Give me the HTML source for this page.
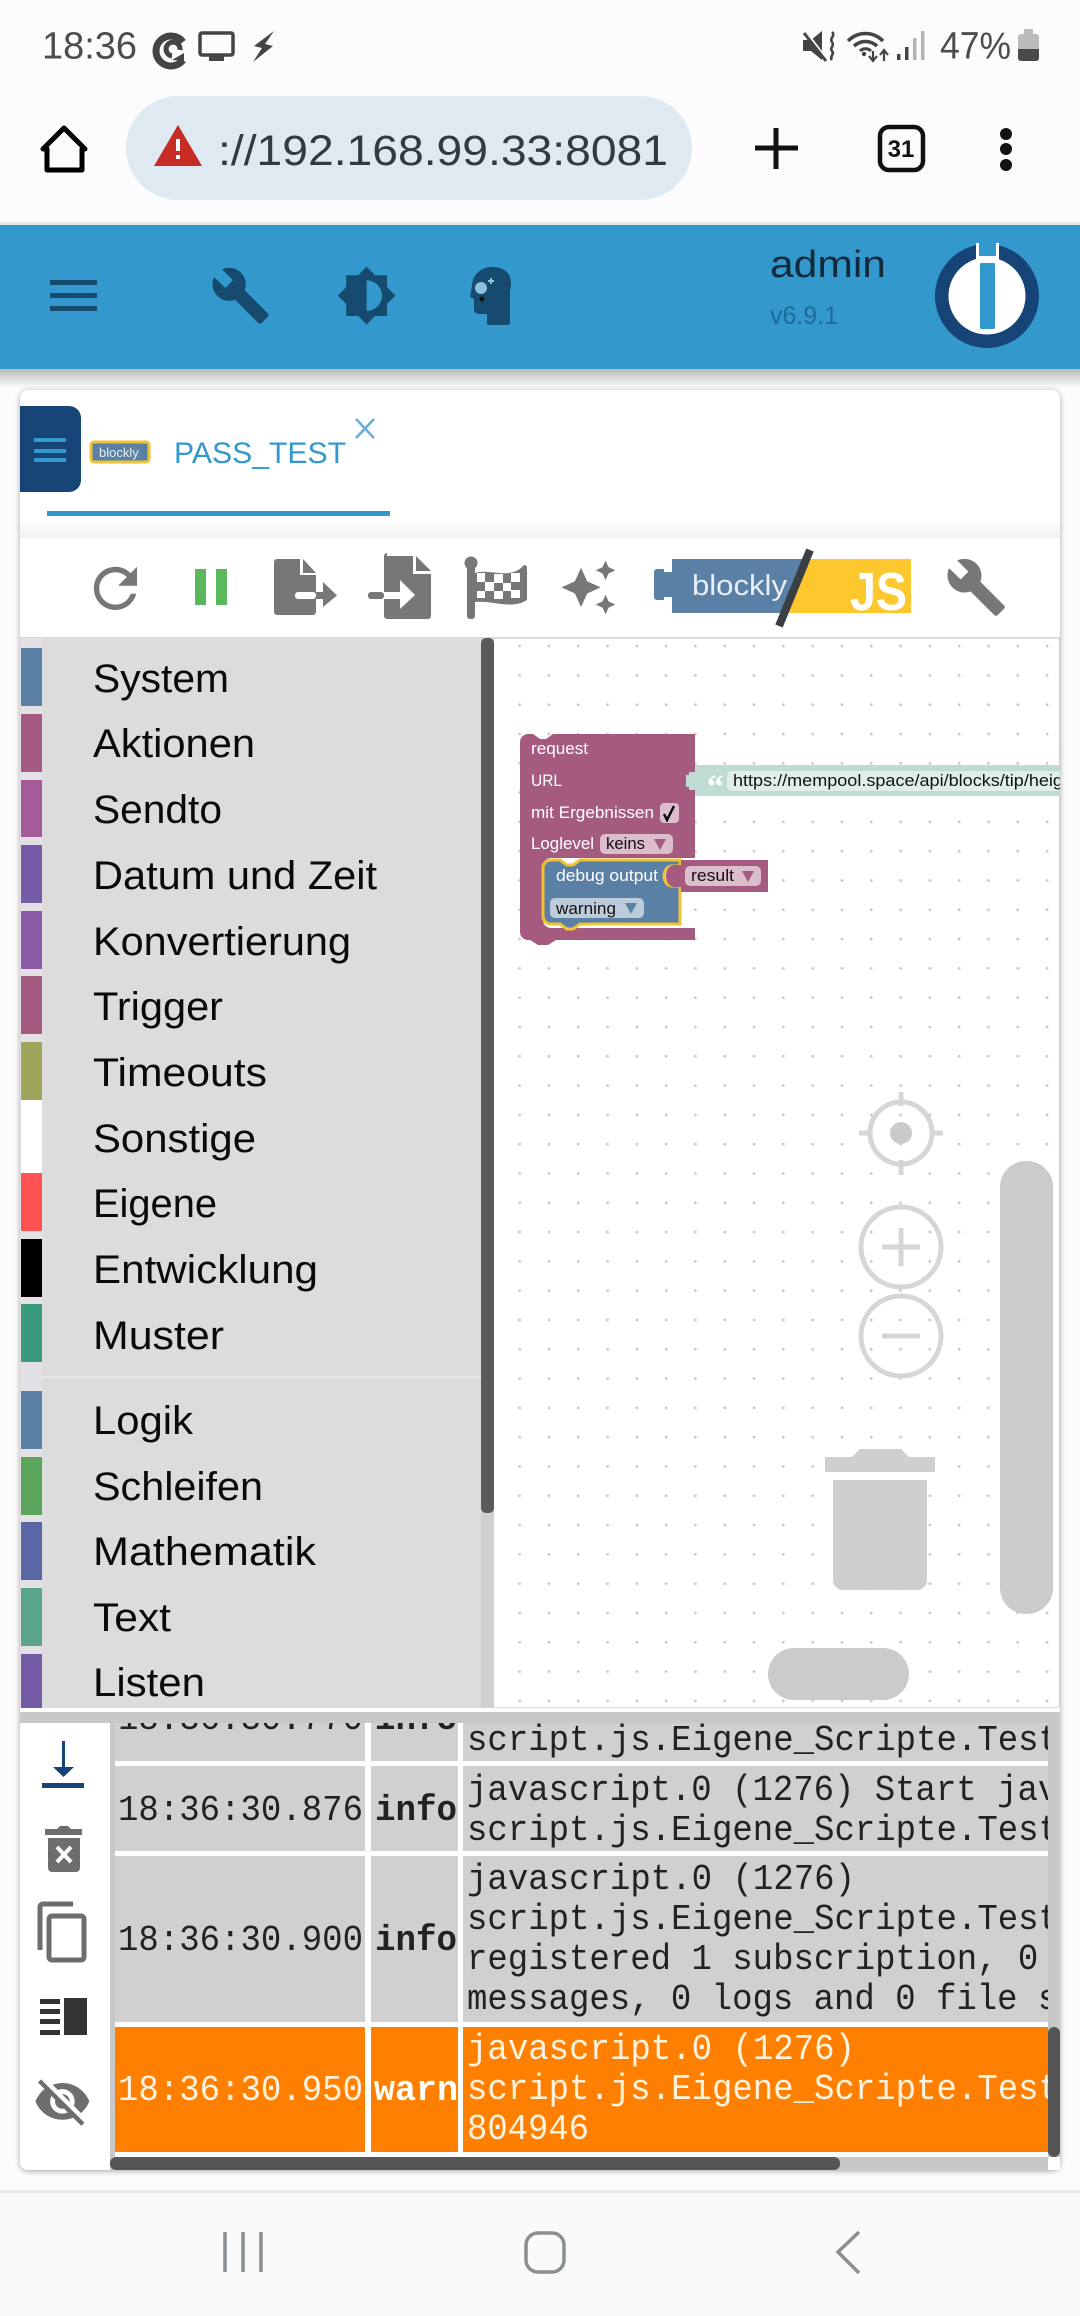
<!DOCTYPE html>
<html><head><meta charset="utf-8"><style>
html,body{margin:0;padding:0;width:1080px;height:2316px;overflow:hidden;background:#fff}
svg{display:block;font-family:"Liberation Sans",sans-serif}
.m text{font-size:40px;fill:#0a0a0a}
.l text{font-family:"Liberation Mono",monospace;font-size:36px;fill:#222}
.b text{font-size:17px;fill:#fff}
</style></head><body>
<svg xmlns="http://www.w3.org/2000/svg" width="1080" height="2316" viewBox="0 0 1080 2316">
<defs>
<pattern id="d" x="505" y="690" width="29.3" height="29.3" patternUnits="userSpaceOnUse"><circle cx="14.65" cy="14.65" r="1.4" fill="#c8c8c8"/></pattern>
<linearGradient id="s" x1="0" y1="0" x2="0" y2="1"><stop offset="0" stop-color="#bbb"/><stop offset="1" stop-color="#fafafa"/></linearGradient>
<linearGradient id="f" x1="0" y1="0" x2="0" y2="1"><stop offset="0" stop-color="#fff"/><stop offset="1" stop-color="#f1f1f1"/></linearGradient>
<clipPath id="cm"><rect x="20" y="638" width="461" height="1070"/></clipPath>
<clipPath id="cl"><rect x="115" y="1723" width="933" height="434"/></clipPath>
<clipPath id="cb"><rect x="494" y="638" width="566" height="1070"/></clipPath>
<path id="wr" d="M22.7 19l-9.1-9.1c.9-2.3.4-5-1.5-6.9-2-2-5-2.4-7.4-1.3L9 6 6 9 1.6 4.7C.4 7.1.9 10.1 2.9 12.1c1.9 1.9 4.6 2.4 6.9 1.5l9.1 9.1c.4.4 1 .4 1.4 0l2.3-2.3c.5-.4.5-1.1.1-1.4z"/>
</defs>

<rect width="1080" height="2316" fill="#fcfcfc"/>
<!-- status + browser bar -->
<rect width="1080" height="222" fill="#fcfcff"/>
<rect y="222" width="1080" height="3" fill="#e4e6ea"/>
<text x="42" y="58.5" font-size="38" fill="#4c4c4c" textLength="95" lengthAdjust="spacingAndGlyphs">18:36</text>
<g fill="#444">
<path d="M183 60 A15 15 0 1 1 183 42" fill="none" stroke="#444" stroke-width="7"/>
<path d="M185 48 A9 9 0 1 0 178 58" fill="none" stroke="#444" stroke-width="0"/>
<path d="M180 50 A7 7 0 1 0 172 56" fill="none" stroke="#444" stroke-width="5"/>
<path d="M172 60l12 1 0-8z"/>
<rect x="200" y="33" width="33" height="22" rx="2" fill="none" stroke="#444" stroke-width="3.5"/><rect x="209" y="56" width="15" height="5"/>
<path d="M274 31L254 46 262 48 253 62 273 46 265 44z"/>
<path d="M804 43v14l10 0 0-0 12 3v-29z" opacity="0"/>
<path d="M803 40h8l11 -9v29l-11-9h-8z"/><path d="M805 31l22 29" stroke="#fcfcff" stroke-width="3"/><path d="M804 33l22 28" stroke="#444" stroke-width="3"/>
<path d="M830 32c4 4-3 6 0 10s-3 6 0 9 -3 6 0 9" fill="none" stroke="#444" stroke-width="2.6" transform="translate(2 0)"/>
<path d="M848 41c10-10 25-10 35 0M854 46c7-6 16-6 23 0" fill="none" stroke="#444" stroke-width="3.6"/><path d="M860 51c3-3 8-3 11 0" fill="none" stroke="#444" stroke-width="3"/><circle cx="864" cy="54" r="2.2"/>
<path d="M873 51v10M869 56l4 5 4-5M884 61v-10M880 55l4-5 4 5" stroke="#444" stroke-width="2.2" fill="none"/>
</g>
<rect x="897" y="54" width="3.5" height="6" fill="#444"/><rect x="905" y="47" width="3.5" height="13" fill="#444"/><rect x="913" y="38" width="3.5" height="22" fill="#b5b5b5"/><rect x="921" y="31" width="3.5" height="29" fill="#b5b5b5"/>
<text x="940" y="58.5" font-size="38" fill="#4c4c4c" textLength="71" lengthAdjust="spacingAndGlyphs">47%</text>
<rect x="1018" y="34" width="21" height="27" rx="3" fill="#bbb"/><rect x="1024" y="29" width="9" height="5" fill="#bbb"/><path d="M1018 49h21v9a3 3 0 0 1-3 3h-15a3 3 0 0 1-3-3z" fill="#4a4a4a"/>

<path d="M64 128L85 149H82V170H47V149H43z" fill="none" stroke="#000" stroke-width="5" stroke-linejoin="round"/>
<rect x="126" y="96" width="566" height="104" rx="52" fill="#dee9f1"/>
<path d="M178 125L202 166H154z" fill="#c62d24"/><rect x="176" y="139" width="4" height="12" fill="#fff"/><rect x="176" y="155" width="4" height="4" fill="#fff"/>
<text x="218" y="165" font-size="43" fill="#323a42" textLength="450" lengthAdjust="spacingAndGlyphs">://192.168.99.33:8081</text>
<path d="M776 128v41M755 148h43" stroke="#111" stroke-width="5" fill="none"/>
<rect x="880" y="127" width="43" height="43" rx="9" fill="none" stroke="#111" stroke-width="4.5"/>
<text x="901" y="157" font-size="24" font-weight="bold" text-anchor="middle" fill="#111">31</text>
<circle cx="1006" cy="134" r="6" fill="#111"/><circle cx="1006" cy="149" r="6" fill="#111"/><circle cx="1006" cy="165" r="6" fill="#111"/>

<!-- app bar -->
<rect y="369" width="1080" height="18" fill="url(#s)"/>
<rect y="225" width="1080" height="144" fill="#3399cc"/>
<g fill="#164a6e">
<rect x="50" y="280" width="47" height="5"/><rect x="50" y="293" width="47" height="5"/><rect x="50" y="306" width="47" height="5"/>
<use href="#wr" transform="translate(210 265) scale(2.55)"/>
<path fill-rule="evenodd" transform="translate(336 265) scale(2.55)" d="M20 15.31L23.31 12 20 8.69V4h-4.69L12 .69 8.69 4H4v4.69L.69 12 4 15.31V20h4.69L12 23.31 15.31 20H20v-4.69zM12 18V6c3.31 0 6 2.69 6 6s-2.69 6-6 6z"/>
<path d="M492 267c-12 0-20 9-20 19l-2 11 4 2v11c0 3 3 4 6 4h7v10c0 1 1 1 2 1h19c1 0 2-1 2-2v-33c3-10 0-23-18-23z"/>
</g>
<circle cx="481" cy="288" r="6" fill="#8fc1dc"/><path d="M488 281h6M491 278v6" stroke="#8fc1dc" stroke-width="2"/><circle cx="482" cy="299" r="2.5" fill="#111"/>
<text x="770" y="277" font-size="38" fill="#132a3d" textLength="116" lengthAdjust="spacingAndGlyphs">admin</text>
<text x="770" y="324" font-size="25" fill="#1e6a9b" textLength="68" lengthAdjust="spacingAndGlyphs">v6.9.1</text>
<circle cx="987" cy="296" r="52" fill="#164477"/><circle cx="987" cy="296" r="38.5" fill="#fff"/>
<rect x="976" y="243" width="23" height="19" fill="#fff"/>
<rect x="979" y="243" width="17" height="13" fill="#3399cc"/>
<rect x="980" y="263" width="15" height="66" rx="1.5" fill="#3399cc"/>

<!-- panel -->
<rect x="20" y="390" width="1040" height="1780" rx="8" fill="#fff" style="filter:drop-shadow(0 1px 3px rgba(0,0,0,.35))"/>
<rect x="20" y="520" width="1040" height="18" fill="url(#f)"/>
<path d="M20 406h49a12 12 0 0 1 12 12v62a12 12 0 0 1-12 12H20z" fill="#164477"/>
<rect x="34" y="438" width="32" height="4" fill="#3399cc"/><rect x="34" y="449" width="32" height="4" fill="#3399cc"/><rect x="34" y="458" width="32" height="4" fill="#3399cc"/>
<rect x="91" y="442" width="58" height="20" rx="3" fill="#5b80a5" stroke="#f1c232" stroke-width="3"/>
<text x="99" y="457" font-size="13" fill="#e8eef4">blockly</text>
<text x="174" y="463" font-size="30" fill="#3399cc" textLength="172" lengthAdjust="spacingAndGlyphs">PASS_TEST</text>
<path d="M356 419l18 19M374 419l-18 19" stroke="#66aed6" stroke-width="2.5"/>
<rect x="47" y="511" width="343" height="5" fill="#3399cc"/>

<!-- toolbar -->
<rect x="20" y="538" width="1040" height="100" fill="#fff"/>
<rect x="20" y="637" width="1040" height="2" fill="#d8d8d8"/>
<path fill="#777" transform="translate(83 556) scale(2.7)" d="M17.65 6.35C16.2 4.9 14.21 4 12 4c-4.42 0-7.99 3.58-7.99 8s3.57 8 7.99 8c3.73 0 6.84-2.55 7.73-6h-2.08c-.82 2.33-3.04 4-5.65 4-3.31 0-6-2.69-6-6s2.69-6 6-6c1.66 0 3.14.69 4.22 1.78L13 11h7V4l-2.35 2.35z"/>
<rect x="195" y="569" width="11" height="36" fill="#5cb85c"/><rect x="216" y="569" width="11" height="36" fill="#5cb85c"/>
<g fill="#777">
<!-- export -->
<path d="M277 559h23v16h16v37a3 3 0 0 1-3 3h-36a3 3 0 0 1-3-3v-50a3 3 0 0 1 3-3z"/>
<path d="M303 559l13 14h-13z"/>
<rect x="295" y="592" width="21" height="7" rx="3" fill="#fff"/>
<rect x="316" y="592" width="9" height="7"/><path d="M323 582l14 13.500-14 11.500z"/>
<!-- import -->
<path d="M387 556h26v18h18v42a3 3 0 0 1-3 3h-41a3 3 0 0 1-3-3v-60a3 3 0 0 1 3-3z"/>
<path d="M416 556l15 15h-15z"/>
<rect x="368" y="592" width="16" height="7" rx="3"/>
<rect x="384" y="592" width="18" height="7" fill="#fff"/><path d="M400 580l15 15-15 14z" fill="#fff"/>
<!-- flag -->
<circle cx="471" cy="563" r="6.500"/><rect x="467" y="563" width="8" height="56" rx="3"/>
<path d="M475 573c15-5 35 8 49-8a3 3 0 0 1 3 2v33c-15 10-35 0-52 2z"/>
<g fill="#fff"><rect x="477" y="573" width="8" height="9"/><rect x="494" y="574" width="9" height="9"/><rect x="511" y="573" width="9" height="9"/><rect x="485" y="582" width="9" height="9"/><rect x="503" y="583" width="8" height="8"/><rect x="477" y="591" width="8" height="7"/><rect x="494" y="591" width="9" height="8"/><rect x="511" y="590" width="9" height="8"/></g>
<path transform="translate(559 558) scale(2.45)" d="M19 9l1.25-2.75L23 5l-2.75-1.25L19 1l-1.25 2.75L15 5l2.75 1.25L19 9zm-7.5.5L9 4 6.5 9.5 1 12l5.5 2.5L9 20l2.5-5.5L17 12l-5.5-2.5zM19 15l-1.25 2.75L15 19l2.75 1.25L19 23l1.25-2.75L23 19l-2.75-1.25L19 15z"/>
<use href="#wr" transform="translate(945 556) scale(2.6)"/>
</g>
<path d="M672 559H806L785 613H672z" fill="#5b80a5"/><path d="M672 572h-8v-3h-7a3 3 0 0 0-3 3v25a3 3 0 0 0 3 3h7v-3h8z" fill="#5b80a5"/>
<path d="M806 559H911V613H785z" fill="#fcc82e"/>
<text x="692" y="595" font-size="29" fill="#e8eff6" textLength="95" lengthAdjust="spacingAndGlyphs">blockly</text>
<text x="850" y="610" font-size="54" font-weight="bold" fill="#fff" textLength="57" lengthAdjust="spacingAndGlyphs">JS</text>
<path d="M810 550L779 626" stroke="#3a3f44" stroke-width="8"/>

<!-- workspace -->
<rect x="494" y="638" width="566" height="1070" fill="#fff"/>
<rect x="494" y="638" width="566" height="1070" fill="url(#d)"/>
<rect x="494" y="638" width="566" height="1" fill="#ddd"/>
<rect x="1059" y="638" width="1.5" height="1070" fill="#cfcfcf"/>
<rect x="494" y="1707" width="566" height="1" fill="#ddd"/>
<g clip-path="url(#cb)">
<g fill="#cccccc">
<path d="M825 1457h27l8-8h41l8 8h26v15H825z" fill-opacity=".95"/>
<path d="M833 1480h94v100a10 10 0 0 1-10 10h-74a10 10 0 0 1-10-10z" fill-opacity=".95"/>
</g>
<g fill="none" stroke="#d6d6d6" stroke-width="5">
<circle cx="901" cy="1133" r="31"/><path d="M901 1092v14M901 1160v15M859 1133h11M932 1133h11"/>
<circle cx="901" cy="1247" r="40"/><path d="M882 1247h38M901 1228v38"/>
<circle cx="901" cy="1336" r="40"/><path d="M882 1336h38"/>
</g>
<circle cx="901" cy="1133" r="11" fill="#cacaca"/>
<rect x="1000" y="1161" width="53" height="453" rx="26" fill="#cbcbcb"/>
<rect x="768" y="1648" width="141" height="52" rx="26" fill="#cbcbcb"/>

<!-- blocks -->
<path d="M695 765H1060V796H695V790H686V772H695z" fill="#bfdcd4"/>
<rect x="727" y="771" width="340" height="20" rx="5" fill="#e0eeea"/>
<text x="707" y="798" font-size="34" font-family="Liberation Serif" font-weight="bold" fill="#fff">“</text>
<text x="733" y="786" font-size="17" fill="#111" textLength="345" lengthAdjust="spacingAndGlyphs">https://mempool.space/api/blocks/tip/height</text>
<path d="M528 734h5l7 5h6l7-5H695V858H551a8 8 0 0 0-8 8v54a8 8 0 0 0 8 8H695v12H556l-8 5-5 0-5 0-8-5h-2a8 8 0 0 1-8-8V742a8 8 0 0 1 8-8z" fill="#a55b80"/>
<path d="M695 772h-6v3h-3v12h3v3h6z" fill="#bfdcd4"/>
<g class="b">
<text x="531" y="754" textLength="57" lengthAdjust="spacingAndGlyphs">request</text>
<text x="531" y="786" textLength="31" lengthAdjust="spacingAndGlyphs">URL</text>
<text x="531" y="818" textLength="123" lengthAdjust="spacingAndGlyphs">mit Ergebnissen</text>
<text x="531" y="849" textLength="63" lengthAdjust="spacingAndGlyphs">Loglevel</text>
</g>
<rect x="660" y="803" width="19" height="20" rx="4" fill="#dbbdcc"/>
<path d="M664 814l3 6 7-14" fill="none" stroke="#000" stroke-width="2.4"/>
<rect x="600" y="834" width="73" height="20" rx="5" fill="#dbbdcc"/>
<text x="606" y="849" font-size="17" fill="#111" textLength="39" lengthAdjust="spacingAndGlyphs">keins</text>
<path d="M654 839h12l-6 11z" fill="#a55b80"/>
<path d="M551 860h9l7 5h6l7-5H680V866H672a8 10 0 0 0 0 20h8V924H580l-7 5h-6l-7-5h-9a8 8 0 0 1-8-8V868a8 8 0 0 1 8-8z" fill="#5b80a5" stroke="#f1c232" stroke-width="3"/>
<text x="556" y="881" font-size="17" fill="#fff" textLength="102" lengthAdjust="spacingAndGlyphs">debug output</text>
<rect x="550" y="898" width="94" height="20" rx="5" fill="#bdccdb"/>
<text x="556" y="914" font-size="17" fill="#111" textLength="60" lengthAdjust="spacingAndGlyphs">warning</text>
<path d="M625 903h12l-6 11z" fill="#5b80a5"/>
<path d="M681 860h87v32h-87v-5h-7a8 11 0 0 1 0-22h7z" fill="#a55b80"/>
<rect x="685" y="866" width="76" height="20" rx="5" fill="#dbbdcc"/>
<text x="691" y="881" font-size="17" fill="#111" textLength="43" lengthAdjust="spacingAndGlyphs">result</text>
<path d="M742 871h12l-6 11z" fill="#a55b80"/>
</g>

<!-- menu -->
<rect x="42" y="638" width="439" height="1070" fill="#dcdcdc"/>
<rect x="481" y="638" width="13" height="1070" fill="#d0d0d0"/>
<rect x="481" y="638" width="13" height="875" rx="5" fill="#5a5a5a"/>
<rect x="42" y="1376" width="439" height="2" fill="#e6e6e6"/>
<g clip-path="url(#cm)">
<rect x="20" y="638" width="22" height="1070" fill="#e3e1e6"/>
<rect x="21" y="648" width="21" height="58" fill="#5b80a5"/>
<rect x="21" y="714" width="21" height="58" fill="#a55b80"/>
<rect x="21" y="780" width="21" height="57" fill="#a55b99"/>
<rect x="21" y="845" width="21" height="58" fill="#745ba5"/>
<rect x="21" y="911" width="21" height="58" fill="#8a5ba5"/>
<rect x="21" y="976" width="21" height="58" fill="#a55b80"/>
<rect x="21" y="1042" width="21" height="58" fill="#9fa55b"/>
<rect x="21" y="1100" width="21" height="73" fill="#ffffff"/>
<rect x="21" y="1173" width="21" height="58" fill="#ff5252"/>
<rect x="21" y="1239" width="21" height="58" fill="#000000"/>
<rect x="21" y="1304" width="21" height="58" fill="#3a9a7d"/>
<rect x="21" y="1391" width="21" height="58" fill="#5b80a5"/>
<rect x="21" y="1457" width="21" height="58" fill="#5ba55b"/>
<rect x="21" y="1522" width="21" height="58" fill="#5b67a5"/>
<rect x="21" y="1588" width="21" height="58" fill="#5ba58c"/>
<rect x="21" y="1654" width="21" height="54" fill="#745ba5"/>
<g class="m">
<text x="93" y="692" textLength="136" lengthAdjust="spacingAndGlyphs">System</text>
<text x="93" y="757" textLength="162" lengthAdjust="spacingAndGlyphs">Aktionen</text>
<text x="93" y="823" textLength="129" lengthAdjust="spacingAndGlyphs">Sendto</text>
<text x="93" y="889" textLength="284" lengthAdjust="spacingAndGlyphs">Datum und Zeit</text>
<text x="93" y="955" textLength="258" lengthAdjust="spacingAndGlyphs">Konvertierung</text>
<text x="93" y="1020" textLength="130" lengthAdjust="spacingAndGlyphs">Trigger</text>
<text x="93" y="1086" textLength="174" lengthAdjust="spacingAndGlyphs">Timeouts</text>
<text x="93" y="1152" textLength="163" lengthAdjust="spacingAndGlyphs">Sonstige</text>
<text x="93" y="1217" textLength="124" lengthAdjust="spacingAndGlyphs">Eigene</text>
<text x="93" y="1283" textLength="225" lengthAdjust="spacingAndGlyphs">Entwicklung</text>
<text x="93" y="1349" textLength="131" lengthAdjust="spacingAndGlyphs">Muster</text>
<text x="93" y="1434" textLength="100" lengthAdjust="spacingAndGlyphs">Logik</text>
<text x="93" y="1500" textLength="170" lengthAdjust="spacingAndGlyphs">Schleifen</text>
<text x="93" y="1565" textLength="223" lengthAdjust="spacingAndGlyphs">Mathematik</text>
<text x="93" y="1631" textLength="78" lengthAdjust="spacingAndGlyphs">Text</text>
<text x="93" y="1696" textLength="112" lengthAdjust="spacingAndGlyphs">Listen</text>
</g>
</g>

<!-- log -->
<rect x="20" y="1712" width="1040" height="11" fill="#c8c8c8"/>
<path d="M20 1723h90v447h-82a8 8 0 0 1-8-8z" fill="#fff"/>
<rect x="110" y="1723" width="950" height="434" fill="#c8c8c8"/>
<rect x="1048" y="2157" width="12" height="13" fill="#fff"/>
<rect x="110" y="2157" width="938" height="13" fill="#c8c8c8"/>
<rect x="110" y="2157" width="730" height="13" rx="6" fill="#555"/>
<g clip-path="url(#cl)">
<rect x="115" y="1723" width="933" height="434" fill="#fff"/>
<rect x="115" y="1723" width="250" height="38" fill="#d0d0d0"/><rect x="371" y="1723" width="87" height="38" fill="#d0d0d0"/><rect x="463" y="1723" width="585" height="38" fill="#d0d0d0"/>
<rect x="115" y="1766" width="250" height="85" fill="#d0d0d0"/><rect x="371" y="1766" width="87" height="85" fill="#d0d0d0"/><rect x="463" y="1766" width="585" height="85" fill="#d0d0d0"/>
<rect x="115" y="1856" width="250" height="166" fill="#d0d0d0"/><rect x="371" y="1856" width="87" height="166" fill="#d0d0d0"/><rect x="463" y="1856" width="585" height="166" fill="#d0d0d0"/>
<rect x="115" y="2027" width="250" height="125" fill="#ff8000"/><rect x="371" y="2027" width="87" height="125" fill="#ff8000"/><rect x="463" y="2027" width="585" height="125" fill="#ff8000"/>
<rect x="115" y="2152" width="933" height="5" fill="#fff"/>
<g class="l">
<text x="118" y="1729" textLength="245" lengthAdjust="spacingAndGlyphs">18:36:30.770</text>
<text x="375" y="1729" font-weight="bold" textLength="82" lengthAdjust="spacingAndGlyphs">info</text>
<text x="467" y="1750" textLength="592" lengthAdjust="spacingAndGlyphs">script.js.Eigene_Scripte.Test</text>
<text x="118" y="1820" textLength="245" lengthAdjust="spacingAndGlyphs">18:36:30.876</text>
<text x="375" y="1820" font-weight="bold" textLength="82" lengthAdjust="spacingAndGlyphs">info</text>
<text x="467" y="1800" textLength="734" lengthAdjust="spacingAndGlyphs">javascript.0 (1276) Start javascript</text>
<text x="467" y="1840" textLength="592" lengthAdjust="spacingAndGlyphs">script.js.Eigene_Scripte.Test</text>
<text x="118" y="1950" textLength="245" lengthAdjust="spacingAndGlyphs">18:36:30.900</text>
<text x="375" y="1950" font-weight="bold" textLength="82" lengthAdjust="spacingAndGlyphs">info</text>
<text x="467" y="1889" textLength="388" lengthAdjust="spacingAndGlyphs">javascript.0 (1276)</text>
<text x="467" y="1929" textLength="592" lengthAdjust="spacingAndGlyphs">script.js.Eigene_Scripte.Test</text>
<text x="467" y="1969" textLength="755" lengthAdjust="spacingAndGlyphs">registered 1 subscription, 0 schedule</text>
<text x="467" y="2009" textLength="836" lengthAdjust="spacingAndGlyphs">messages, 0 logs and 0 file subscriptions</text>
</g>
<g class="l">
<text x="118" y="2100" style="fill:#fdf3e0" textLength="245" lengthAdjust="spacingAndGlyphs">18:36:30.950</text>
<text x="374" y="2100" font-weight="bold" style="fill:#fff" textLength="84" lengthAdjust="spacingAndGlyphs">warn</text>
<text x="467" y="2059" style="fill:#fdf3e0" textLength="388" lengthAdjust="spacingAndGlyphs">javascript.0 (1276)</text>
<text x="467" y="2099" style="fill:#fdf3e0" textLength="592" lengthAdjust="spacingAndGlyphs">script.js.Eigene_Scripte.Test</text>
<text x="467" y="2139" style="fill:#fdf3e0" textLength="122" lengthAdjust="spacingAndGlyphs">804946</text>
</g>
</g>
<rect x="1048" y="2027" width="12" height="130" rx="6" fill="#555"/>
<!-- log icons -->
<path d="M62 1741h3v26h9l-10.500 10-10.500-10h9z" fill="#164477"/><rect x="42" y="1783" width="42" height="5" fill="#164477"/>
<g fill="#6e6e6e">
<path d="M45 1829h12l3-3h8l3 3h11v6H45z"/><path d="M48 1838h32v30a4 4 0 0 1-4 4H52a4 4 0 0 1-4-4z"/>
</g>
<path d="M57 1847l14 15M71 1847l-14 15" stroke="#fff" stroke-width="4"/>
<g fill="none" stroke="#6e6e6e" stroke-width="5">
<path d="M40 1950v-43a3 3 0 0 1 3-3h30"/><rect x="49" y="1916" width="35" height="44" rx="3"/>
</g>
<g fill="#333"><rect x="64" y="1998" width="23" height="37"/><rect x="40" y="1999" width="20" height="5"/><rect x="40" y="2009" width="20" height="5"/><rect x="40" y="2019" width="20" height="5"/><rect x="40" y="2030" width="20" height="5"/></g>
<path fill="#6e6e6e" transform="translate(33 2072) scale(2.45)" d="M12 7c2.76 0 5 2.24 5 5 0 .65-.13 1.26-.36 1.83l2.92 2.92c1.51-1.26 2.7-2.89 3.43-4.75-1.73-4.39-6-7.5-11-7.5-1.4 0-2.74.25-3.98.7l2.16 2.16C10.74 7.13 11.35 7 12 7zM2 4.27l2.28 2.28.46.46C3.08 8.3 1.78 10.02 1 12c1.73 4.39 6 7.5 11 7.5 1.55 0 3.03-.3 4.38-.84l.42.42L19.73 22 21 20.73 3.27 3 2 4.27zM7.53 9.8l1.55 1.55c-.05.21-.08.43-.08.65 0 1.66 1.34 3 3 3 .22 0 .44-.03.65-.08l1.55 1.55c-.67.33-1.41.53-2.2.53-2.76 0-5-2.24-5-5 0-.79.2-1.53.53-2.2zm4.31-.78l3.15 3.15.02-.16c0-1.66-1.34-3-3-3l-.17.01z"/>

<!-- nav -->
<rect y="2190" width="1080" height="126" fill="#fafafd"/>
<rect y="2190" width="1080" height="3" fill="#e6e8ea"/>
<path d="M225 2232v40M243 2232v40M261 2232v40" stroke="#8a8f94" stroke-width="3.5" fill="none"/>
<rect x="526" y="2233" width="38" height="39" rx="12" fill="none" stroke="#8a8f94" stroke-width="3.5"/>
<path d="M859 2232l-21 20 21 21" stroke="#8a8f94" stroke-width="3.5" fill="none"/>
</svg>
</body></html>
